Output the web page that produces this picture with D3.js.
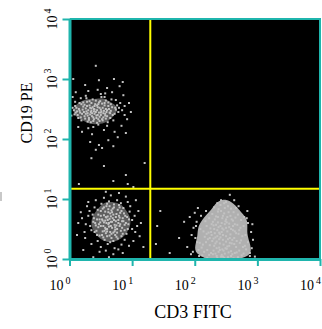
<!DOCTYPE html>
<html>
<head>
<meta charset="utf-8">
<script src="https://cdn.jsdelivr.net/npm/d3@7"></script>
<style>
  body { margin: 0; background: #fff; }
  svg { display: block; }
</style>
</head>
<body>
<div id="chart"></div>
<script>
// events per population, as [CD3, CD19] in decades (log10 of intensity)
const bCells = [
  [0.42,2.45],[0.33,2.52],[0.50,2.40],[0.27,2.46],[0.58,2.50],[0.38,2.36],[0.46,2.58],[0.20,2.42],[0.64,2.44],[0.35,2.60],
  [0.52,2.33],[0.15,2.50],[0.44,2.48],[0.60,2.38],[0.29,2.39],[0.40,2.55],[0.55,2.47],[0.10,2.44],[0.48,2.30],[0.68,2.53],
  [0.24,2.57],[0.36,2.43],[0.62,2.61],[0.31,2.32],[0.45,2.40],[0.18,2.36],[0.56,2.56],[0.39,2.50],[0.72,2.42],[0.26,2.51],
  [0.49,2.63],[0.07,2.48],[0.34,2.28],[0.59,2.45],[0.43,2.35],[0.22,2.54],[0.65,2.35],[0.37,2.66],[0.53,2.52],[0.13,2.40],
  [0.47,2.44],[0.30,2.48],[0.61,2.28],[0.41,2.58],[0.19,2.31],[0.57,2.42],[0.28,2.62],[0.74,2.49],[0.36,2.38],[0.51,2.46],
  [0.09,2.55],[0.44,2.27],[0.66,2.58],[0.23,2.45],[0.54,2.36],[0.32,2.56],[0.48,2.52],[0.16,2.60],[0.70,2.31],[0.40,2.42],
  [0.25,2.34],[0.58,2.64],[0.35,2.47],[0.63,2.50],[0.46,2.33],[0.12,2.46],[0.52,2.59],[0.29,2.43],[0.76,2.56],[0.38,2.30],
  [0.21,2.49],[0.45,2.53],[0.33,2.41],[0.57,2.39],[0.11,2.52],[0.39,2.46],[0.66,2.47],[0.28,2.55],[0.50,2.49],[0.17,2.44],
  [0.43,2.39],[0.62,2.55],[0.24,2.38],[0.37,2.53],[0.54,2.43],[0.08,2.41],[0.47,2.61],[0.31,2.35],[0.69,2.40],[0.40,2.49],
  [0.19,2.58],[0.53,2.31],[0.35,2.51],[0.60,2.48],[0.26,2.42],[0.44,2.56],[0.14,2.35],[0.73,2.52],[0.48,2.37],[0.32,2.63],
  [0.56,2.60],[0.05,2.52],[0.39,2.33],[0.65,2.43],[0.22,2.61],[0.50,2.44],[0.29,2.29],[0.78,2.45],[0.42,2.64],[0.16,2.47],
  [0.58,2.34],[0.34,2.45],[0.81,2.60],[0.03,2.39],[0.46,2.24],[0.67,2.66],[0.27,2.68],[0.84,2.48],[0.51,2.70],[0.38,2.20],
  [0.74,2.65],[0.18,2.68],[0.60,2.22],[0.09,2.62],[0.88,2.55],[0.30,2.18],[0.57,2.76],[0.45,2.82],[0.72,2.12],[0.26,2.72],
  [0.42,3.22],[0.06,3.00],[0.71,3.00],[0.47,2.98],[0.86,2.73],[0.79,2.52],[0.47,1.90],[0.42,1.82],[0.77,2.03],[0.60,2.85],
  [0.30,2.80],[0.88,2.40],[0.20,2.12],[0.55,2.15],[0.95,2.60],[0.05,2.70],[0.36,2.08],[0.68,2.78],[0.83,2.22],[0.25,2.90],
  [0.50,2.75],[0.14,2.20],[0.92,2.33],[0.62,1.98],[0.33,1.95],[0.80,2.88],[0.56,2.70],[0.10,2.78],[0.90,2.10],[0.98,2.45],
  [0.70,1.88],[0.85,2.95],[0.52,1.85]
];
const nullCells = [
  [0.66,0.62],[0.58,0.50],[0.74,0.70],[0.52,0.66],[0.80,0.55],[0.62,0.78],[0.70,0.44],[0.47,0.58],[0.85,0.68],[0.60,0.38],
  [0.77,0.82],[0.55,0.73],[0.68,0.52],[0.43,0.47],[0.90,0.60],[0.64,0.88],[0.73,0.40],[0.50,0.80],[0.82,0.47],[0.59,0.60],
  [0.71,0.65],[0.39,0.68],[0.87,0.76],[0.65,0.45],[0.54,0.55],[0.78,0.60],[0.61,0.71],[0.93,0.50],[0.48,0.39],[0.69,0.84],
  [0.57,0.64],[0.83,0.38],[0.63,0.54],[0.75,0.75],[0.45,0.82],[0.88,0.57],[0.67,0.35],[0.53,0.46],[0.80,0.69],[0.60,0.92],
  [0.72,0.57],[0.41,0.60],[0.86,0.85],[0.56,0.32],[0.76,0.50],[0.64,0.67],[0.50,0.72],[0.95,0.66],[0.68,0.78],[0.58,0.43],
  [0.79,0.90],[0.46,0.53],[0.70,0.30],[0.62,0.58],[0.84,0.63],[0.55,0.86],[0.73,0.49],[0.37,0.74],[0.91,0.42],[0.66,0.71],
  [0.52,0.40],[0.81,0.77],[0.60,0.50],[0.74,0.63],[0.44,0.66],[0.89,0.72],[0.67,0.42],[0.57,0.79],[0.77,0.34],[0.63,0.96],
  [0.49,0.61],[0.84,0.52],[0.71,0.86],[0.59,0.69],[0.96,0.79],[0.40,0.45],[0.75,0.56],[0.65,0.28],[0.53,0.64],[0.82,0.93],
  [0.63,0.60],[0.70,0.74],[0.55,0.61],[0.78,0.65],[0.60,0.46],[0.67,0.81],[0.50,0.55],[0.86,0.63],[0.58,0.70],[0.73,0.53],
  [0.46,0.74],[0.81,0.58],[0.64,0.39],[0.69,0.68],[0.53,0.84],[0.76,0.44],[0.42,0.56],[0.92,0.70],[0.61,0.65],[0.71,0.91],
  [0.56,0.47],[0.83,0.80],[0.66,0.55],[0.48,0.66],[0.75,0.37],[0.59,0.88],[0.88,0.48],[0.44,0.40],[0.68,0.62],[0.79,0.72],
  [0.54,0.36],[0.62,0.83],[0.94,0.58],[0.38,0.62],[0.72,0.46],[0.51,0.92],[0.85,0.42],[0.65,0.76],[0.57,0.52],[0.80,0.86],
  [0.30,0.72],[1.00,0.50],[0.45,0.30],[0.76,0.98],[0.97,0.88],[0.35,0.48],[0.61,0.25],[0.88,0.32],[0.50,0.20],[1.04,0.72],
  [0.26,0.58],[0.72,0.18],[0.40,0.86],[0.93,0.95],[0.58,0.14],[1.08,0.55],[0.24,0.45],[0.83,0.24],[0.66,1.06],[0.32,0.80],
  [0.18,0.78],[0.14,0.60],[0.38,0.03],[0.63,0.03],[0.93,1.25],[0.79,1.10],[1.06,0.98],[1.14,0.60],[0.25,0.35],[0.30,0.95],
  [1.02,0.30],[1.10,0.80],[0.22,0.15],[0.85,0.10],[0.48,0.12],[1.05,0.45],[0.33,0.55],[0.70,0.08],[1.18,0.20],[0.28,0.88],
  [0.95,0.22],[0.12,0.40],[0.55,1.02],[1.00,0.65],[0.35,0.25],[0.78,0.16],[0.20,0.68],[1.12,0.38],[0.42,0.98],[0.90,1.04]
];
const tCells = [
  [2.45,0.32],[2.38,0.12],[2.52,0.46],[2.31,0.22],[2.60,0.08],[2.41,0.55],[2.49,0.18],[2.27,0.40],[2.56,0.27],[2.35,0.05],
  [2.63,0.35],[2.44,0.68],[2.20,0.15],[2.51,0.61],[2.39,0.33],[2.58,0.50],[2.47,0.02],[2.29,0.62],[2.66,0.20],[2.36,0.48],
  [2.54,0.11],[2.42,0.80],[2.18,0.28],[2.61,0.64],[2.33,0.09],[2.50,0.38],[2.71,0.14],[2.25,0.51],[2.46,0.24],[2.57,0.72],
  [2.40,0.42],[2.12,0.06],[2.64,0.46],[2.37,0.70],[2.53,0.03],[2.30,0.34],[2.68,0.57],[2.44,0.16],[2.22,0.44],[2.59,0.26],
  [2.48,0.85],[2.34,0.57],[2.74,0.31],[2.43,0.07],[2.16,0.37],[2.55,0.53],[2.39,0.19],[2.62,0.01],[2.28,0.75],[2.50,0.66],
  [2.35,0.29],[2.70,0.42],[2.46,0.49],[2.24,0.23],[2.58,0.13],[2.41,0.90],[2.08,0.27],[2.65,0.69],[2.32,0.43],[2.52,0.21],
  [2.78,0.09],[2.37,0.61],[2.45,0.40],[2.19,0.55],[2.60,0.32],[2.47,0.76],[2.26,0.10],[2.55,0.59],[2.42,0.04],[2.73,0.52],
  [2.33,0.36],[2.51,0.17],[2.14,0.46],[2.63,0.25],[2.38,0.83],[2.49,0.63],[2.80,0.22],[2.30,0.14],[2.57,0.41],[2.44,0.51],
  [2.36,0.02],[2.67,0.11],[2.21,0.33],[2.54,0.78],[2.40,0.26],[2.76,0.38],[2.27,0.58],[2.48,0.09],[2.61,0.48],[2.34,0.71],
  [2.11,0.19],[2.56,0.35],[2.43,0.60],[2.69,0.03],[2.23,0.07],[2.50,0.52],[2.39,0.44],[2.82,0.16],[2.31,0.50],[2.59,0.66],
  [2.46,0.14],[2.17,0.63],[2.64,0.58],[2.35,0.18],[2.53,0.88],[2.28,0.30],[2.72,0.27],[2.45,0.72],[2.20,0.02],[2.58,0.05],
  [2.41,0.36],[2.66,0.43],[2.32,0.66],[2.50,0.29],[2.15,0.12],[2.62,0.78],[2.38,0.53],[2.47,0.93],[2.75,0.06],[2.26,0.45],
  [2.43,0.45],[2.55,0.22],[2.36,0.38],[2.61,0.55],[2.29,0.08],[2.48,0.58],[2.67,0.30],[2.33,0.26],[2.52,0.70],[2.40,0.15],
  [2.71,0.48],[2.24,0.35],[2.58,0.84],[2.45,0.04],[2.19,0.42],[2.64,0.10],[2.37,0.79],[2.53,0.33],[2.77,0.20],[2.30,0.56],
  [2.13,0.24],[2.81,0.40],[2.06,0.15],[2.85,0.28],[2.09,0.50],[2.78,0.55],[2.23,0.68],[2.69,0.74],[2.01,0.35],[2.88,0.05],
  [2.42,0.98],[2.50,0.95],[2.31,0.86],[2.66,0.85],[2.03,0.62],[2.83,0.68],[2.18,0.80],[2.74,0.65],[1.94,0.08],[2.92,0.58],
  [1.83,0.62],[1.92,0.70],[2.00,0.77],[2.04,0.28],[1.97,0.12],[2.56,1.07],[2.36,0.93],[2.93,0.32],[2.85,0.60],[1.95,0.40],
  [2.02,0.55],[2.88,0.10],[2.90,0.45],[2.05,0.85],[1.88,0.20],[2.96,0.04],[2.79,0.70],[2.10,0.72],[2.63,0.98],[2.84,0.80],
  [2.07,0.05],[1.98,0.52],[2.91,0.18],[2.70,0.88]
];
const strayCells = [
  [0.55,1.55],[0.90,1.40],[0.70,1.30],[1.02,1.20],[0.35,1.68],[1.40,0.55],[1.38,0.25],
  [1.45,0.80],[0.58,1.12],[1.20,1.60],[1.75,0.35],[0.15,1.25],[1.60,0.10]
];
const tickExps = [0, 1, 2, 3, 4];
const gateCD3 = 1.29, gateCD19 = 1.17;   // quadrant cursor, decades
const xTitle = "CD3 FITC", yTitle = "CD19 PE";

const W = 322, H = 329;
const cyan = "#1fb5ad", yellow = "#ffff00", dotGray = "#c2c2c2";
const serif = "'Liberation Serif', 'Times New Roman', serif";

const x = d3.scaleLog().domain([1, 1e4]).range([69.5, 320]);
const y = d3.scaleLog().domain([1, 1e4]).range([259, 19]);
const px = d => x(Math.pow(10, d[0]));
const py = d => y(Math.pow(10, d[1]));

const svg = d3.select("#chart").append("svg")
  .attr("width", W)
  .attr("height", H);

svg.append("clipPath").attr("id", "plotClip")
  .append("rect")
  .attr("x", x(1)).attr("y", y(1e4))
  .attr("width", x(1e4) - x(1)).attr("height", y(1) - y(1e4));

svg.append("rect")
  .attr("x", x(1)).attr("y", y(1e4))
  .attr("width", x(1e4) - x(1)).attr("height", y(1) - y(1e4))
  .attr("fill", "#000");

const plot = svg.append("g").attr("clip-path", "url(#plotClip)");

// dense cores: a filled density level of each population
function drawCore(pts, frac, bw, fill) {
  const contours = d3.contourDensity()
    .x(px).y(py)
    .size([W, H])
    .cellSize(2)
    .bandwidth(bw)
    .thresholds(40)(pts);
  const max = d3.max(contours, c => c.value);
  const level = contours.find(c => c.value >= max * frac);
  if (level) {
    plot.append("path")
      .attr("d", d3.geoPath()(level))
      .attr("fill", fill);
  }
}
drawCore(tCells, 0.30, 5, "#b0b0b0");
drawCore(nullCells, 0.38, 4, "#5e5e5e");
drawCore(bCells, 0.40, 4, "#5e5e5e");

const allCells = bCells.concat(nullCells, tCells, strayCells);
plot.selectAll("rect.dot")
  .data(allCells)
  .join("rect")
  .attr("class", "dot")
  .attr("x", d => px(d) - 1)
  .attr("y", d => py(d) - 1)
  .attr("width", 2)
  .attr("height", 2)
  .attr("fill", dotGray);

// quadrant cursor
plot.append("line")
  .attr("x1", x(Math.pow(10, gateCD3))).attr("x2", x(Math.pow(10, gateCD3)))
  .attr("y1", y(1e4)).attr("y2", y(1))
  .attr("stroke", yellow).attr("stroke-width", 2);
plot.append("line")
  .attr("x1", x(1)).attr("x2", x(1e4))
  .attr("y1", y(Math.pow(10, gateCD19))).attr("y2", y(Math.pow(10, gateCD19)))
  .attr("stroke", yellow).attr("stroke-width", 2);

// frame top / right
svg.append("line")
  .attr("x1", x(1)).attr("x2", x(1e4) + 1)
  .attr("y1", y(1e4)).attr("y2", y(1e4))
  .attr("stroke", cyan).attr("stroke-width", 2);
svg.append("line")
  .attr("x1", x(1e4)).attr("x2", x(1e4))
  .attr("y1", y(1e4)).attr("y2", y(1))
  .attr("stroke", cyan).attr("stroke-width", 2);

const tickVals = tickExps.map(e => Math.pow(10, e));

const gx = svg.append("g")
  .attr("transform", `translate(0,${y(1)})`)
  .call(d3.axisBottom(x).tickValues(tickVals).tickSize(7).tickSizeOuter(0).tickFormat(""));
const gy = svg.append("g")
  .attr("transform", `translate(${x(1)},0)`)
  .call(d3.axisLeft(y).tickValues(tickVals).tickSize(7).tickSizeOuter(0).tickFormat(""));

[gx, gy].forEach(g => {
  g.select(".domain").attr("stroke", cyan).attr("stroke-width", 3);
  g.selectAll(".tick line").attr("stroke", cyan).attr("stroke-width", 2);
});

// tick labels 10^n
tickExps.forEach(e => {
  const t = svg.append("text")
    .attr("x", x(Math.pow(10, e)) + 1)
    .attr("y", 290)
    .attr("text-anchor", "end")
    .attr("font-family", serif)
    .attr("font-size", 14)
    .attr("fill", "#000")
    .text("10");
  t.append("tspan").attr("dx", 2).attr("dy", -6).attr("font-size", 10).text(e);

  const ty = svg.append("text")
    .attr("transform", `translate(57,${y(Math.pow(10, e))}) rotate(-90)`)
    .attr("text-anchor", "middle")
    .attr("font-family", serif)
    .attr("font-size", 14)
    .attr("fill", "#000")
    .text("10");
  ty.append("tspan").attr("dx", 2).attr("dy", -6).attr("font-size", 10).text(e);
});

svg.append("text")
  .attr("x", 193).attr("y", 318)
  .attr("text-anchor", "middle")
  .attr("font-family", serif)
  .attr("font-size", 18)
  .attr("fill", "#000")
  .text(xTitle);

svg.append("text")
  .attr("transform", "translate(32,113) rotate(-90)")
  .attr("text-anchor", "middle")
  .attr("font-family", serif)
  .attr("font-size", 16)
  .attr("fill", "#000")
  .text(yTitle);

// scan artefact at the left edge
svg.append("rect")
  .attr("x", 0).attr("y", 192).attr("width", 2).attr("height", 9)
  .attr("fill", "#c8c8c8");
</script>
</body>
</html>
